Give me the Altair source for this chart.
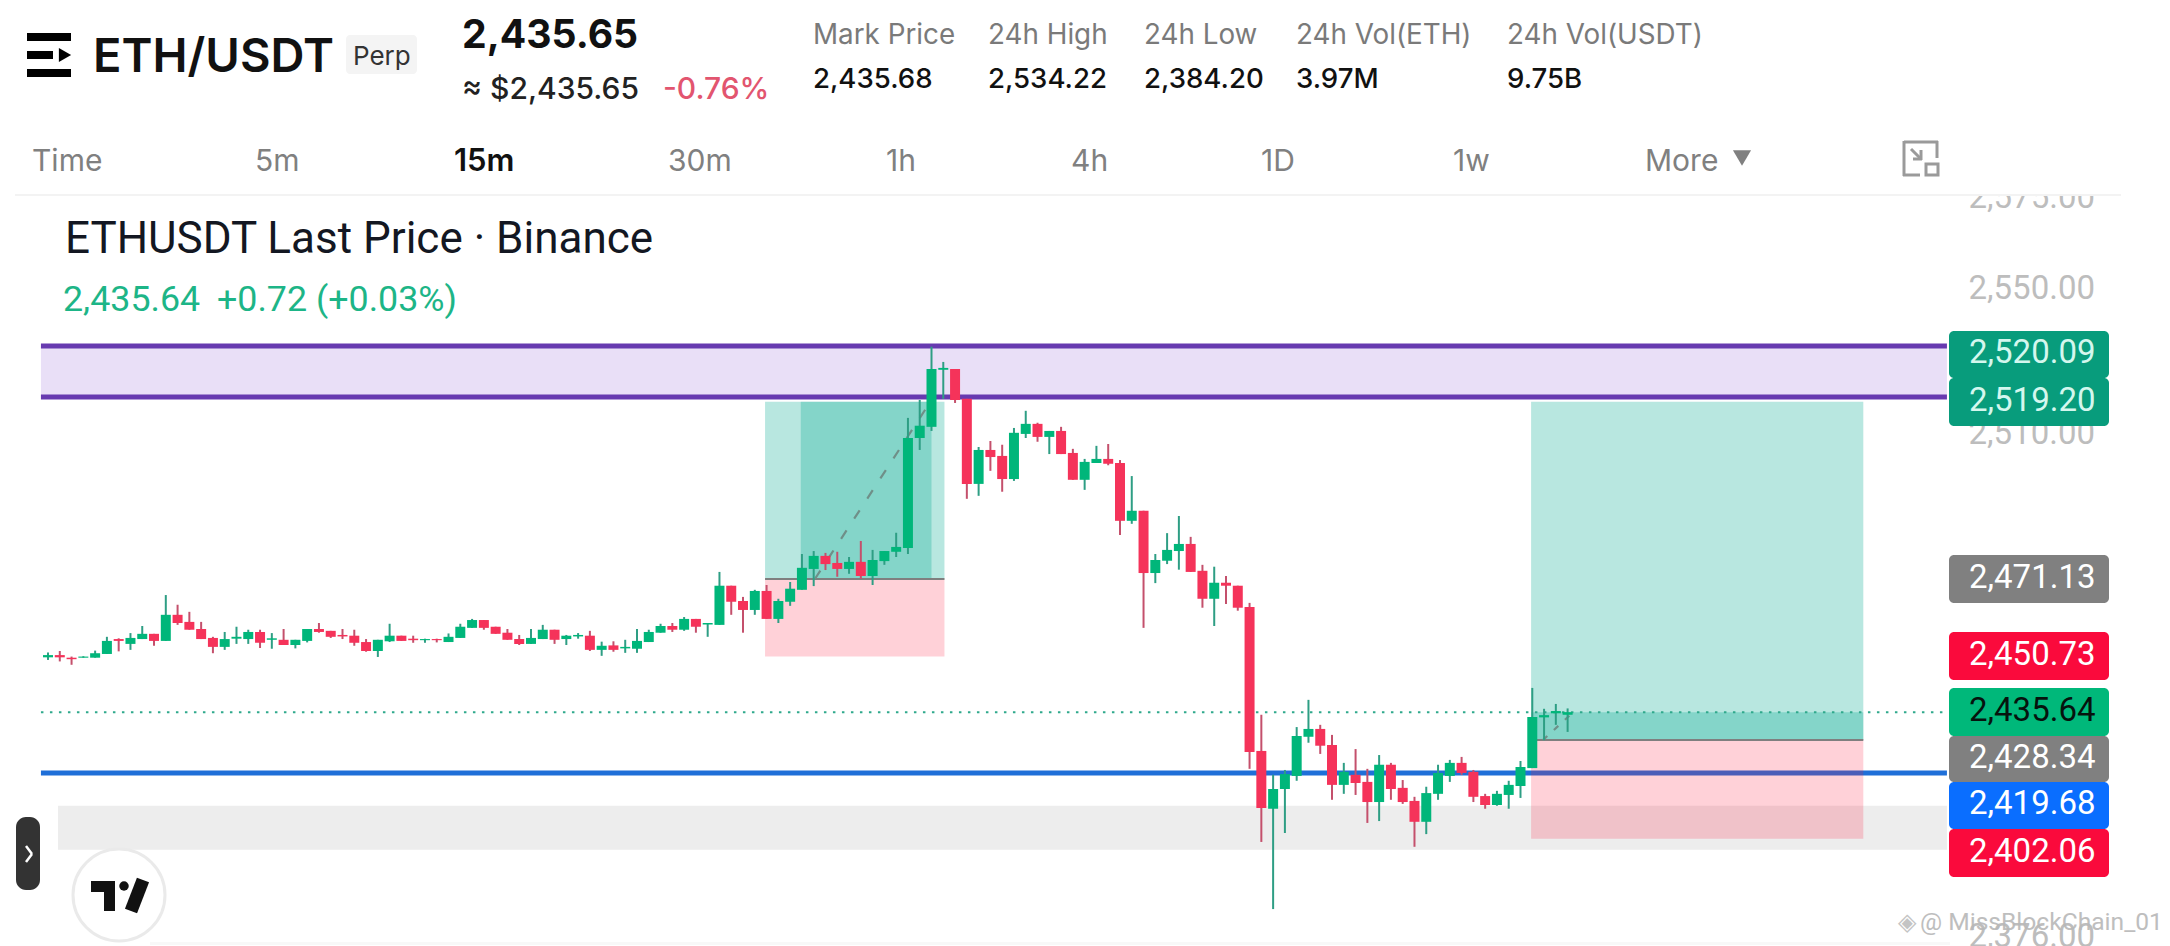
import altair as alt
import pandas as pd

# ---- candle series (15m ETHUSDT) ----
opens = [2450.7,2451.3,2450.6,2450.6,2450.6,2451.6,2455.6,2454.3,2455.6,2457.0,
2455.1,2462.1,2460.2,2458.3,2455.9,2453.5,2455.7,2455.6,2457.5,2455.4,
2455.4,2454.0,2455.1,2458.3,2457.8,2456.7,2456.5,2454.8,2452.4,2455.0,
2456.5,2455.7,2455.3,2455.6,2454.8,2455.9,2458.6,2460.7,2458.9,2457.3,
2455.6,2454.3,2455.6,2458.1,2455.6,2456.3,2456.5,2452.7,2453.9,2453.1,
2453.0,2454.8,2457.3,2459.1,2458.1,2461.0,2459.5,2459.4,2469.9,2465.8,
2463.4,2468.5,2461.0,2465.6,2468.8,2474.4,2477.9,2476.0,2474.4,2476.3,
2472.5,2476.5,2479.0,2480.0,2509.5,2512.5,2527.8,2528.0,2520.0,2497.2,
2506.3,2504.7,2498.5,2510.6,2513.3,2509.8,2511.4,2505.5,2498.3,2502.8,
2503.9,2502.8,2487.3,2490.0,2473.3,2476.6,2479.2,2481.1,2473.9,2466.4,
2470.7,2469.9,2464.2,2425.6,2410.1,2415.4,2418.9,2429.4,2431.5,2427.2,
2416.5,2419.2,2417.3,2411.9,2421.9,2415.7,2412.2,2406.6,2414.1,2418.9,
2422.4,2420.0,2413.5,2411.1,2413.8,2416.2,2421.0,2434.6,2435.7,2435.3]
closes = [2451.3,2450.7,2450.2,2450.9,2451.8,2455.1,2455.1,2455.9,2457.0,2455.1,
2462.1,2459.9,2458.1,2455.6,2453.5,2455.6,2456.2,2457.5,2454.6,2455.8,
2454.0,2455.4,2458.3,2457.5,2456.2,2456.3,2454.6,2452.4,2455.4,2456.5,
2455.1,2455.3,2455.6,2455.3,2456.2,2458.9,2460.7,2458.6,2457.0,2455.4,
2454.3,2455.9,2458.1,2455.4,2456.5,2456.7,2452.7,2453.8,2452.7,2453.5,
2455.1,2457.5,2459.1,2458.1,2461.0,2458.9,2459.9,2469.9,2465.6,2463.4,
2468.5,2461.0,2465.8,2469.1,2474.7,2477.9,2475.7,2474.4,2476.3,2472.5,
2476.8,2479.2,2480.3,2509.5,2512.8,2528.0,2528.3,2519.7,2497.2,2506.3,
2504.4,2498.5,2510.9,2513.3,2509.8,2511.4,2505.2,2498.3,2503.1,2503.9,
2502.6,2487.3,2490.0,2473.3,2476.8,2479.5,2481.1,2473.6,2466.4,2470.7,
2469.9,2464.0,2425.3,2410.3,2415.4,2419.4,2429.6,2431.5,2427.0,2416.5,
2420.0,2417.0,2411.9,2421.9,2415.4,2411.9,2406.6,2414.3,2419.7,2422.4,
2419.7,2413.3,2411.1,2414.1,2416.5,2421.3,2434.7,2435.2,2436.3,2436.0]
highs = [2452.0,2452.4,2450.9,2451.0,2452.5,2456.2,2455.8,2457.2,2459.1,2457.0,
2467.4,2464.8,2462.9,2460.2,2456.2,2457.5,2458.9,2458.1,2458.1,2457.2,
2458.3,2455.4,2458.3,2459.9,2457.8,2458.3,2458.1,2455.6,2455.4,2459.7,
2456.5,2456.5,2455.7,2455.7,2457.1,2459.7,2461.0,2460.7,2458.9,2458.3,
2456.7,2458.3,2459.4,2458.1,2456.7,2457.2,2457.8,2454.9,2455.0,2455.4,
2458.3,2458.1,2459.7,2459.9,2461.5,2461.0,2459.9,2473.6,2469.9,2466.9,
2468.8,2470.1,2466.4,2470.9,2478.4,2479.2,2478.7,2479.0,2477.6,2481.9,
2479.5,2479.2,2484.1,2514.9,2519.7,2534.0,2529.9,2528.0,2520.0,2507.1,
2508.7,2507.7,2512.2,2516.8,2513.6,2511.4,2512.5,2506.6,2503.9,2507.4,
2507.9,2503.6,2499.3,2490.0,2478.4,2484.0,2488.6,2483.0,2475.5,2475.0,
2472.5,2469.9,2465.3,2435.3,2419.2,2420.5,2432.0,2439.3,2432.6,2429.9,
2422.4,2426.1,2420.8,2424.5,2422.4,2417.8,2413.3,2416.0,2421.9,2423.2,
2424.0,2420.5,2414.1,2414.9,2417.6,2422.9,2442.5,2436.9,2438.2,2437.0]
lows = [2450.0,2449.6,2448.7,2450.6,2450.6,2451.6,2452.3,2452.7,2455.6,2453.8,
2455.1,2459.4,2458.1,2455.6,2451.8,2452.7,2454.3,2454.3,2453.2,2453.0,
2454.0,2453.1,2454.7,2457.3,2455.9,2455.6,2453.8,2452.2,2450.8,2454.8,
2455.1,2454.6,2454.6,2454.7,2454.8,2455.9,2458.6,2458.1,2457.0,2455.4,
2454.0,2454.3,2455.6,2454.3,2454.0,2455.7,2452.4,2451.1,2452.2,2451.9,
2451.9,2454.8,2457.3,2457.5,2457.8,2457.3,2456.2,2459.4,2462.1,2457.3,
2462.1,2461.0,2459.9,2464.5,2468.8,2469.8,2474.1,2472.3,2473.1,2471.7,
2470.1,2475.5,2477.6,2478.4,2506.3,2511.4,2520.0,2518.9,2493.2,2494.0,
2500.7,2495.1,2498.0,2509.5,2508.5,2505.2,2505.2,2498.3,2495.6,2502.8,
2502.2,2483.5,2486.5,2458.6,2470.6,2475.7,2474.2,2473.6,2464.0,2459.1,
2465.0,2463.2,2420.8,2401.2,2383.2,2403.6,2417.6,2427.8,2424.8,2412.5,
2414.1,2413.8,2406.3,2406.8,2412.5,2411.4,2399.9,2403.3,2412.5,2417.3,
2419.2,2411.9,2410.1,2410.9,2410.1,2413.0,2421.0,2428.5,2432.6,2430.7]

# ---- horizontal drawings and position tools (prices) ----
resistance = [2534.2, 2520.5]
support_line = 2419.68
grey_zone = [2410.9, 2399.1]
last_price = 2436.0
long_a = {"left": 60.87, "right": 76.1, "tp": 2519.2, "entry": 2471.7, "sl": 2450.9,
          "inner_left": 63.9, "inner_right": 75.0, "inner_top": 2519.2}
long_b = {"left": 125.9, "right": 154.1, "tp": 2519.2, "entry": 2428.5, "sl": 2402.06,
          "inner_left": 125.9, "inner_right": 154.1, "inner_top": 2436.0}
price_ticks = [2575, 2550, 2510, 2376]

stats = [("Mark Price", "2,435.68", 813), ("24h High", "2,534.22", 988), ("24h Low", "2,384.20", 1144),
         ("24h Vol(ETH)", "3.97M", 1296), ("24h Vol(USDT)", "9.75B", 1507)]
tabs = [("Time", 32), ("5m", 255), ("15m", 454), ("30m", 668), ("1h", 886), ("4h", 1071),
        ("1D", 1261), ("1w", 1453), ("More", 1645)]
tags = [("2,520.09", 331, 378, "#089C7C", "#D4F7EE"), ("2,519.20", 378, 426, "#089C7C", "#D4F7EE"),
        ("2,471.13", 555, 603, "#808080", "#FFFFFF"), ("2,450.73", 632, 680, "#FA0A3C", "#FFFFFF"),
        ("2,435.64", 688, 736, "#00B87A", "#06130E"), ("2,428.34", 736, 782, "#808080", "#FFFFFF"),
        ("2,419.68", 782, 829, "#0A6EFF", "#FFFFFF"), ("2,402.06", 829, 877, "#FA0A3C", "#FFFFFF")]

W, H = 2154, 938
SANS = "Inter"
ROB = "Roboto"

xscale = alt.Scale(domain=[-3.396, 179.457], range=[0, W], nice=False, zero=False, padding=0)
yscale = alt.Scale(domain=[2624.8, 2373.3], range=[0, H], nice=False, zero=False)
yaxis = alt.Axis(values=price_ticks, format=",.2f", orient="right", offset=-194, title=None, domain=False,
                 ticks=False, grid=False, labelFont=ROB, labelFontSize=33, labelColor="#BDBDBD",
                 labelPadding=0, labelOverlap=False, labelBound=False, labelFlush=False,
                 labelOffset=alt.expr("datum.value == 2575 ? 4 : datum.value == 2510 ? -3 : datum.value == 2550 ? 2 : 1"))


def X(f):
    return alt.X(f, type="quantitative", scale=xscale, axis=None, title=None)


def X2(f):
    return alt.X2(f)


def Y(f):
    return alt.Y(f, type="quantitative", scale=yscale, axis=yaxis, title=None)


one = alt.InlineData(values=[{"k": 1}])


def txt(s, x, base, size, color, weight=400, font=SANS, align="left", **kw):
    return alt.Chart(one).mark_text(text=s, align=align, baseline="alphabetic", fontSize=size, font=font,
                                    color=color, fontWeight=weight, **kw).encode(
        x=alt.value(x - 8), y=alt.value(base - 8))


def rect(x1, y1, x2, y2, color, **kw):
    return alt.Chart(one).mark_rect(color=color, **kw).encode(
        x=alt.value(x1 - 8), x2=alt.value(x2 - 8), y=alt.value(y1 - 8), y2=alt.value(y2 - 8))


def seg(x1, y1, x2, y2, color, w, **kw):
    return alt.Chart(one).mark_rule(color=color, strokeWidth=w, **kw).encode(
        x=alt.value(x1 - 8), x2=alt.value(x2 - 8), y=alt.value(y1 - 8), y2=alt.value(y2 - 8))


def band(x1, x2, p1, p2, color, opacity=1.0):
    d = pd.DataFrame({"a": [x1], "b": [x2], "p": [p1], "q": [p2]})
    return alt.Chart(d).mark_rect(color=color, opacity=opacity).encode(x=X("a"), x2=X2("b"), y=Y("p"), y2=alt.Y2("q"))


def hline(x1, x2, p, color, w, **kw):
    d = pd.DataFrame({"a": [x1], "b": [x2], "p": [p]})
    return alt.Chart(d).mark_rule(color=color, strokeWidth=w, **kw).encode(x=X("a"), x2=X2("b"), y=Y("p"))


def diagonal(xs, ps, dash):
    d = pd.DataFrame({"a": xs, "p": ps})
    return alt.Chart(d).mark_line(color="#6F8F88", strokeWidth=2.2, strokeDash=dash).encode(x=X("a"), y=Y("p"))


df = pd.DataFrame({"i": list(range(len(opens))), "o": opens, "c": closes, "h": highs, "l": lows})
up = df[df.c >= df.o]
dn = df[df.c < df.o]
L, R = -0.6, 161.2

layers = [
    band(0.85, R, grey_zone[0], grey_zone[1], "#EDEDED"),
    hline(L, R, support_line, "#1F6FD8", 5),
    band(L, R, resistance[0], resistance[1], "#E9DFF7"),
    hline(L, R, resistance[0], "#673AB0", 5),
    hline(L, R, resistance[1], "#673AB0", 5),
]
for z in (long_a, long_b):
    layers += [
        band(z["left"], z["right"], z["tp"], z["entry"], "#00A88E", 0.28),
        band(z["left"], z["right"], z["entry"], z["sl"], "#FF193C", 0.2),
        band(z["inner_left"], z["inner_right"], z["inner_top"], z["entry"], "#00A88E", 0.28),
        hline(z["left"], z["right"], z["entry"], "#7F7F7F", 2),
    ]
layers += [
    hline(L, R, last_price, "#2FA98C", 2, strokeDash=[2.5, 6.5]),
    diagonal([65.1, 74.9], [2471.7, 2519.2], [10, 14]),
    diagonal([126.9, 129.3], [2428.5, 2435.5], [6, 9]),
    alt.Chart(up).mark_rule(color="#2E9E84", strokeWidth=2).encode(x=X("i"), y=Y("h"), y2=alt.Y2("l")),
    alt.Chart(dn).mark_rule(color="#C4506C", strokeWidth=2).encode(x=X("i"), y=Y("h"), y2=alt.Y2("l")),
    alt.Chart(up).mark_bar(color="#00B67A", width=10, orient="vertical").encode(x=X("i"), y=Y("o"), y2=alt.Y2("c")),
    alt.Chart(dn).mark_bar(color="#F5335A", width=10, orient="vertical").encode(x=X("i"), y=Y("o"), y2=alt.Y2("c")),
]

# header: cover clipped axis label, then toolbar
layers += [rect(8, 8, 2162, 196, "#FFFFFF"), rect(15, 194, 2121, 196, "#F3F3F3")]
layers += [rect(27, 33, 71, 41, "#000000"), rect(27, 51, 53, 59, "#000000"), rect(27, 69, 71, 77, "#000000"),
           alt.Chart(one).mark_point(shape="triangle-right", filled=True, size=200, color="#000000", opacity=1).encode(
               x=alt.value(65 - 8), y=alt.value(55 - 8)),
           txt("ETH/USDT", 93, 72, 47, "#111111", 600),
           rect(346, 35, 417, 74, "#F4F4F4", cornerRadius=4),
           txt("Perp", 353, 65, 26, "#333333"),
           txt("2,435.65", 462, 48, 39.2, "#111111", 700),
           txt("≈ $2,435.65", 462, 99, 30, "#222222", 500),
           txt("-0.76%", 663, 99, 30, "#E2556F", 500)]
for lab, val, x in stats:
    layers += [txt(lab, x, 44, 27.8, "#7A7A7A"), txt(val, x, 88, 27.6, "#111111", 500)]
for lab, x in tabs:
    active = lab == "15m"
    layers.append(txt(lab, x, 171, 31 if active else 30, "#111111" if active else "#808080", 600 if active else 400))
layers.append(alt.Chart(one).mark_point(shape="triangle-down", filled=True, size=330, color="#808080", opacity=1).encode(
    x=alt.value(1742 - 8), y=alt.value(158 - 8)))
# collapse icon
ic = "#9A9A9A"
layers += [seg(1904, 142, 1938, 142, ic, 3), seg(1904, 141, 1904, 176, ic, 3), seg(1903, 175, 1920, 175, ic, 3),
           seg(1937, 141, 1937, 158, ic, 3), seg(1911, 149, 1921, 159, ic, 3), seg(1913, 159, 1922, 159, ic, 3),
           seg(1921, 150, 1921, 160, ic, 3),
           alt.Chart(one).mark_rect(fill="#FFFFFF", stroke=ic, strokeWidth=3).encode(
               x=alt.value(1926 - 8), x2=alt.value(1938 - 8), y=alt.value(164 - 8), y2=alt.value(175 - 8))]

# legend
layers += [txt("ETHUSDT Last Price · Binance", 65, 253, 44, "#131722", 400, ROB),
           txt("2,435.64", 63, 311, 35.8, "#1DB587", 400, ROB),
           txt("+0.72 (+0.03%)", 217, 311, 35.8, "#1DB587", 400, ROB)]

# price tags
for s, y1, y2, c, tc in tags:
    layers += [rect(1949, y1, 2109, y2, c, cornerRadius=5), txt(s, 1969, (y1 + y2) / 2 + 8.5, 33, tc, 400, ROB)]

# bottom furniture
layers += [rect(16, 817, 40, 890, "#333333", cornerRadius=10),
           seg(26, 846, 32, 854, "#FFFFFF", 2.5), seg(32, 854, 26, 862, "#FFFFFF", 2.5),
           alt.Chart(one).mark_point(shape="circle", size=8464, fill="#FFFFFF", stroke="#EAEAEA",
                                     strokeWidth=3, opacity=1, filled=False).encode(
               x=alt.value(119 - 8), y=alt.value(895 - 8)),
           rect(91, 881, 115, 892, "#111111"), rect(104, 881, 115, 911, "#111111"),
           alt.Chart(one).mark_point(shape="circle", size=90, filled=True, color="#111111", opacity=1).encode(
               x=alt.value(124 - 8), y=alt.value(886 - 8)),
           seg(131, 911, 143, 880, "#111111", 13),
           rect(150, 942, 1950, 945, "#F8F8F8"),
           txt("◈", 1898, 930, 24, "#C4C4C4", 400, "DejaVu Sans"),
           txt("@ MissBlockChain_01", 1920, 930, 24.6, "#B8B8B8", 400, ROB, opacity=0.9)]

chart = alt.layer(*layers).properties(
    width=W, height=H, padding=0, autosize=alt.AutoSizeParams(type="none"), background="#FFFFFF"
).configure_view(strokeWidth=0)

chart.save("out.html", embed_options={"renderer": "svg", "actions": False})
